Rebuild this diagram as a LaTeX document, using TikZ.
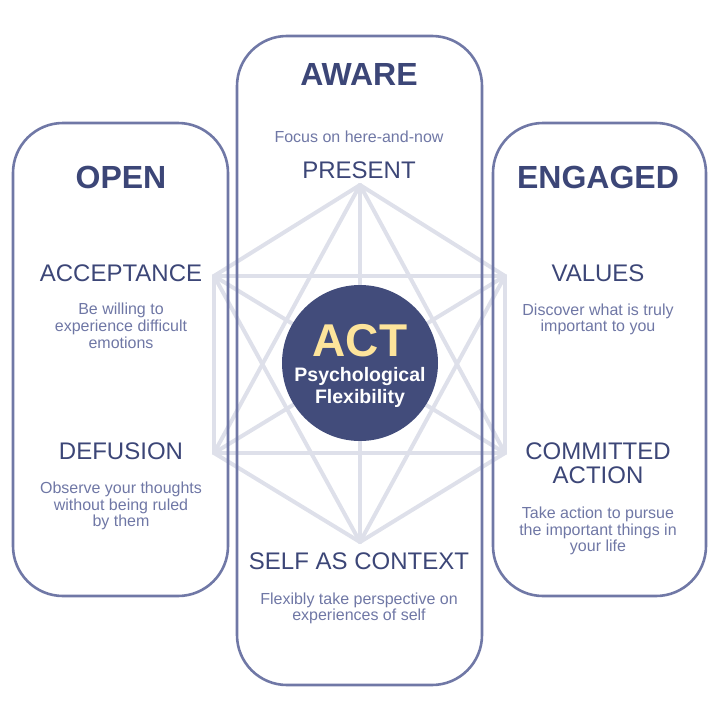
\documentclass[tikz,border=0pt]{standalone}
\usepackage{fontspec}
\setmainfont{Liberation Sans}
\definecolor{navy}{HTML}{3C4677}
\definecolor{desc}{HTML}{6F77A5}
\definecolor{boxc}{HTML}{7078A6}
\definecolor{hexc}{HTML}{DEE0EA}
\definecolor{circc}{HTML}{424C7B}
\definecolor{actc}{HTML}{FDE49B}
\begin{document}
\begin{tikzpicture}[x=1pt,y=-1pt,
  panel/.style={draw=boxc, line width=2.6pt, rounded corners=50pt, rectangle, inner sep=0pt},
  hexline/.style={draw=hexc, line width=4pt, line cap=round, line join=round},
  grouptitle/.style={text=navy, font=\fontsize{32}{34}\selectfont\bfseries, anchor=base, inner sep=0pt},
  proc/.style={text=navy, font=\fontsize{24}{24.5}\selectfont, anchor=base, inner sep=0pt, align=center},
  descr/.style={text=desc, font=\fontsize{16}{16.7}\selectfont, anchor=base, inner sep=0pt, align=center}]
\useasboundingbox (0,0) rectangle (720,720);
% hexagon vertices
\coordinate (T) at (360,185);
\coordinate (UR) at (505,276);
\coordinate (LR) at (505,453);
\coordinate (B) at (360,542);
\coordinate (LL) at (214,453);
\coordinate (UL) at (214,276);
% complete graph on the six vertices
\foreach \a/\b in {T/UR,UR/LR,LR/B,B/LL,LL/UL,UL/T,
                   T/LR,T/LL,B/UL,B/UR,UL/UR,LL/LR,
                   T/B,UL/LR,UR/LL}
  \draw[hexline] (\a) -- (\b);
% panels
\node[panel, minimum width=215pt, minimum height=473pt] (open) at (120.5,359.5) {};
\node[panel, minimum width=245pt, minimum height=649pt] (aware) at (359.5,360.5) {};
\node[panel, minimum width=213pt, minimum height=473pt] (engaged) at (599.5,359.5) {};
% centre circle
\node[circle, fill=circc, minimum size=156pt, inner sep=0pt] (act) at (360,363) {};
\node[text=actc, font=\fontsize{46}{46}\selectfont\bfseries, anchor=base, inner sep=0pt] (actlbl) at (360,356) {ACT};
\node[text=white, font=\fontsize{19.5}{21.6}\selectfont\bfseries, anchor=base, inner sep=0pt, align=center] (pf) at (360,403.3) {Psychological\\Flexibility};
% group titles
\node[grouptitle] (topen) at (121,188.3) {OPEN};
\node[grouptitle] (taware) at (359,85) {AWARE};
\node[grouptitle] (tengaged) at (598,188.3) {ENGAGED};
% processes (anchor = baseline of the last line)
\node[proc] (pres) at (359,178.3) {PRESENT};
\node[descr] (dpres) at (359,142.7) {Focus on here-and-now};
\node[proc] (acc) at (121,281.7) {ACCEPTANCE};
\node[descr] (dacc) at (121,348.3) {Be willing to\\experience difficult\\emotions};
\node[proc] (def) at (121,459.3) {DEFUSION};
\node[descr] (ddef) at (121,526.7) {Observe your thoughts\\without being ruled\\by them};
\node[proc] (val) at (598,281.7) {VALUES};
\node[descr] (dval) at (598,331.7) {Discover what is truly\\important to you};
\node[proc] (com) at (598,483.5) {COMMITTED\\ACTION};
\node[descr] (dcom) at (598,551.7) {Take action to pursue\\the important things in\\your life};
\node[proc] (self) at (359,569.3) {SELF AS CONTEXT};
\node[descr] (dself) at (359,620.7) {Flexibly take perspective on\\experiences of self};
\end{tikzpicture}
\end{document}
